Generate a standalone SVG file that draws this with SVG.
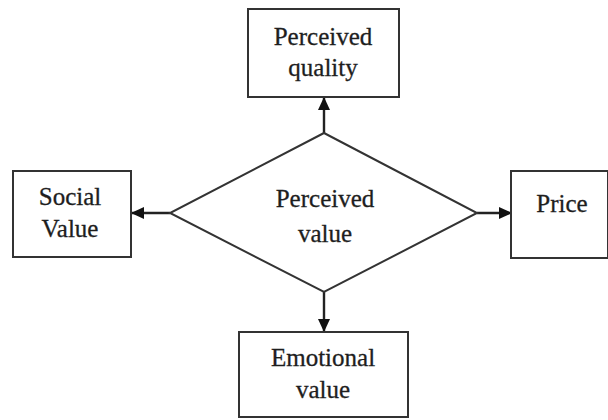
<svg xmlns="http://www.w3.org/2000/svg" width="608" height="420" viewBox="0 0 608 420">
<style>
.box{fill:#fff;stroke:#333;stroke-width:2}
.t{font-family:"Liberation Serif","Times New Roman",serif;font-size:25px;fill:#1e1e1e;stroke:#1e1e1e;stroke-width:0.3;text-anchor:middle}
.c{stroke:#222;stroke-width:2.4;fill:none;marker-end:url(#ah)}
</style>
<defs>
<marker id="ah" markerWidth="13" markerHeight="12" refX="12" refY="6" orient="auto" markerUnits="userSpaceOnUse" viewBox="0 0 13 12">
<path d="M0,0 L13,6 L0,12 z" fill="#111"/>
</marker>
</defs>
<rect width="608" height="420" fill="#fff"/>
<g id="connectors">
<line class="c" x1="324" y1="133" x2="324" y2="98"/>
<line class="c" x1="170" y1="213" x2="132" y2="213"/>
<line class="c" x1="477" y1="213" x2="511" y2="213"/>
<line class="c" x1="324" y1="292" x2="324" y2="331"/>
</g>
<g id="perceived-value">
<polygon points="324,133 477,213 324,292 170,213" class="box"/>
<text class="t" x="325" y="207">Perceived</text>
<text class="t" x="325" y="242">value</text>
</g>
<g id="perceived-quality">
<rect class="box" x="248" y="9" width="151" height="88"/>
<text class="t" x="323" y="45">Perceived</text>
<text class="t" x="323" y="76">quality</text>
</g>
<g id="social-value">
<rect class="box" x="13" y="171" width="118" height="86"/>
<text class="t" x="70" y="205">Social</text>
<text class="t" x="70" y="237">Value</text>
</g>
<g id="price">
<rect class="box" x="511" y="171" width="97" height="87"/>
<text class="t" x="562" y="212">Price</text>
</g>
<g id="emotional-value">
<rect class="box" x="239" y="332" width="169" height="85"/>
<text class="t" x="323" y="366">Emotional</text>
<text class="t" x="323" y="398">value</text>
</g>
</svg>
